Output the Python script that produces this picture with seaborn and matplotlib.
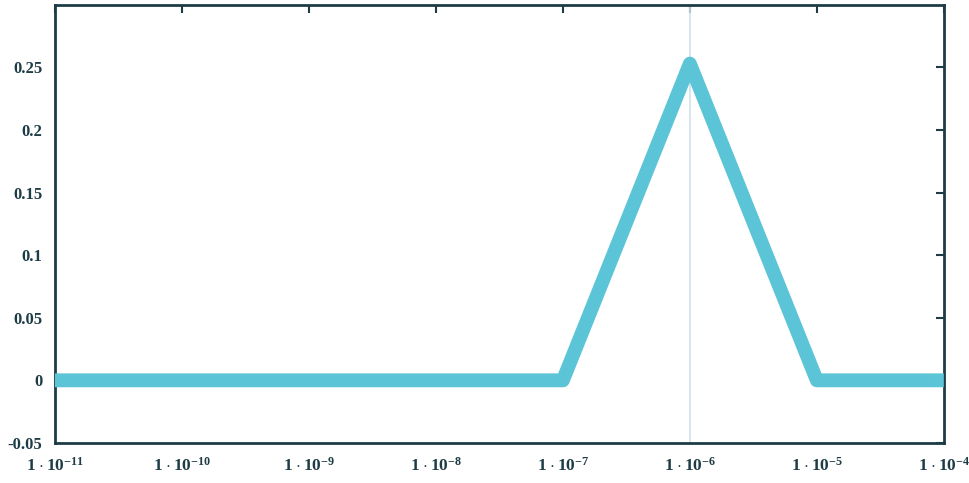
import numpy as np
import pandas as pd
import matplotlib
matplotlib.use("Agg")
import matplotlib.pyplot as plt
import seaborn as sns

# data
x_vals = [1e-11, 1e-10, 1e-9, 1e-8, 1e-7, 1e-6, 1e-5, 1e-4]
y_vals = [0.0, 0.0, 0.0, 0.0, 0.0, 0.253, 0.0, 0.0]
base_x = [1e-11, 1e-7]
base_y = [0.0, 0.0]
x_ticks = [1e-11, 1e-10, 1e-9, 1e-8, 1e-7, 1e-6, 1e-5, 1e-4]
x_labels = [r"$\mathbf{1\cdot10^{-%d}}$" % k for k in range(11, 3, -1)]
y_ticks = [-0.05, 0, 0.05, 0.1, 0.15, 0.2, 0.25]
y_labels = ["-0.05", "0", "0.05", "0.1", "0.15", "0.2", "0.25"]

sns.set_theme(style="white")
plt.rcParams["font.family"] = ["Liberation Serif", "DejaVu Serif"]
plt.rcParams["mathtext.fontset"] = "custom"
plt.rcParams["mathtext.rm"] = "Liberation Serif"
plt.rcParams["mathtext.bf"] = "Liberation Serif:bold"

df = pd.DataFrame({"x": x_vals, "y": y_vals})
base = pd.DataFrame({"x": base_x, "y": base_y})

fig = plt.figure(figsize=(9.7, 4.83), dpi=100)
ax = fig.add_axes([0.0567, 0.083, 0.9163, 0.907])

ax.axvline(1e-6, color="#cfe3ea", lw=1.2, zorder=1)
sns.lineplot(data=base, x="x", y="y", ax=ax, color="#c0392b", lw=1.5, zorder=2)
sns.lineplot(data=df, x="x", y="y", ax=ax, color="#5bc4d6", lw=10,
             solid_joinstyle="round", solid_capstyle="butt", zorder=3)

ax.set_xscale("log")
ax.set_xlim(1e-11, 1e-4)
ax.set_ylim(-0.05, 0.3)
ax.minorticks_off()
ax.set_xticks(x_ticks)
ax.set_xticklabels(x_labels, fontsize=12.5)
ax.set_yticks(y_ticks)
ax.set_yticklabels(y_labels, fontsize=12, fontweight="bold")
ax.set_xlabel("")
ax.set_ylabel("")

for s in ax.spines.values():
    s.set_color("#1e3c46")
    s.set_linewidth(2)
ax.tick_params(axis="both", which="major", direction="in", length=6, width=1.5,
               color="#1e3c46", top=True, right=True, labelcolor="#1e3c46")
ax.tick_params(axis="x", pad=10)
ax.tick_params(axis="y", pad=9)

fig.savefig("out.png", dpi=100)
